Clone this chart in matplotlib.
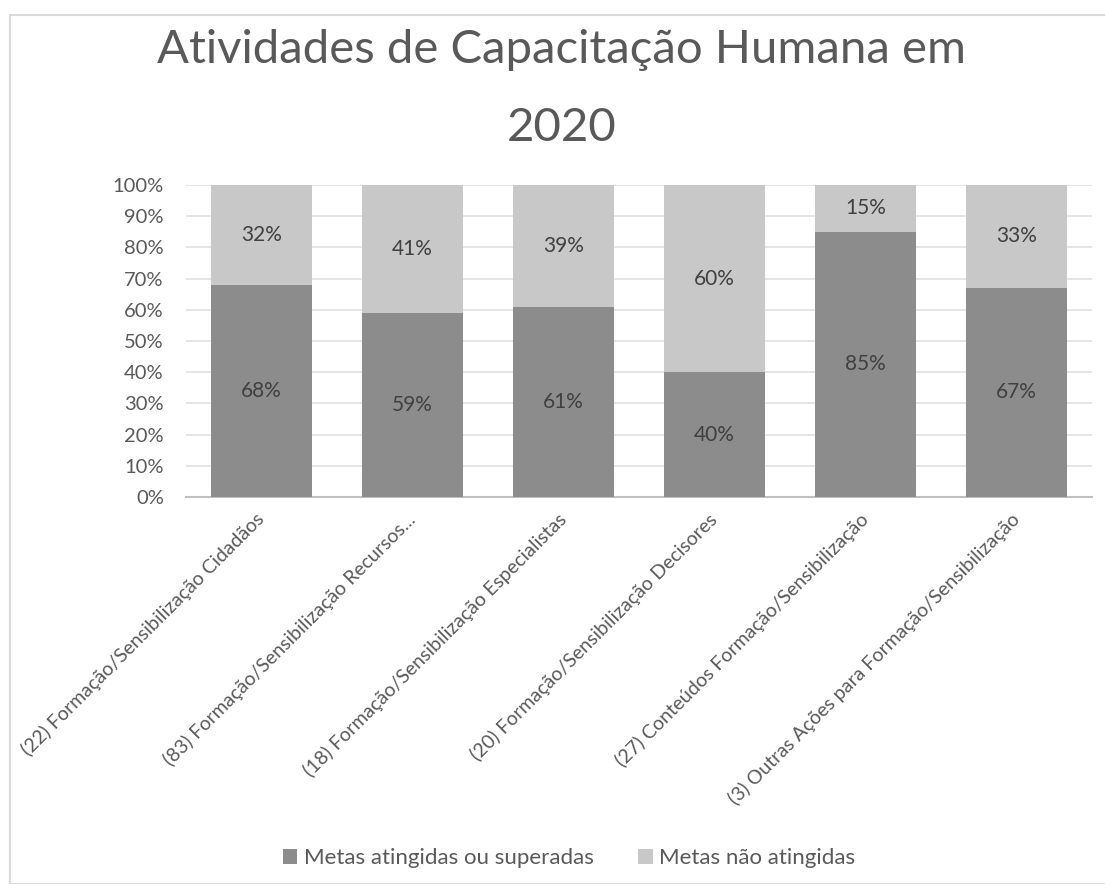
import matplotlib
matplotlib.use("Agg")
import matplotlib.pyplot as plt
from matplotlib.patches import Rectangle
import numpy as np

categories = [
    "(22) Formação/Sensibilização Cidadãos",
    "(83) Formação/Sensibilização Recursos...",
    "(18) Formação/Sensibilização Especialistas",
    "(20) Formação/Sensibilização Decisores",
    "(27) Conteúdos Formação/Sensibilização",
    "(3) Outras Ações para Formação/Sensibilização",
]
atingidas = [68, 59, 61, 40, 85, 67]
nao_atingidas = [32, 41, 39, 60, 15, 33]
series_names = ["Metas atingidas ou superadas", "Metas não atingidas"]
yticks = list(range(0, 101, 10))

plt.rcParams['font.family'] = ['Lato', 'DejaVu Sans']
txt = '#595959'
c_dark = '#8c8c8c'
c_light = '#c8c8c8'

fig = plt.figure(figsize=(11.05, 8.84), dpi=100)
fig.patches.append(Rectangle((10/1105, 0), 1.2, 1 - 15/884, transform=fig.transFigure,
                             fill=False, edgecolor='#d9d9d9', linewidth=1.5))
ax = fig.add_axes([186/1105, 1 - 497/884, (1092-186)/1105, (497-185)/884])

x = np.arange(len(categories))
w = 0.667
ax.bar(x, atingidas, w, color=c_dark, label=series_names[0], zorder=3)
ax.bar(x, nao_atingidas, w, bottom=atingidas, color=c_light, label=series_names[1], zorder=3)

for i in range(len(categories)):
    ax.text(x[i], atingidas[i] / 2, f"{atingidas[i]}%", ha='center', va='center',
            fontsize=15, color='#404040', zorder=4)
    ax.text(x[i], atingidas[i] + nao_atingidas[i] / 2, f"{nao_atingidas[i]}%", ha='center',
            va='center', fontsize=15, color='#404040', zorder=4)

ax.set_xlim(-0.5, len(categories) - 0.5)
ax.set_ylim(0, 100)
ax.set_yticks(yticks)
ax.set_yticklabels([f"{t}%" for t in yticks], fontsize=14.5, color=txt)
ax.yaxis.grid(True, color='#e3e3e3', linewidth=1.3, zorder=0)
ax.set_axisbelow(True)
for s in ['top', 'right', 'left']:
    ax.spines[s].set_visible(False)
ax.spines['bottom'].set_color('#bfbfbf')
ax.spines['bottom'].set_linewidth(1.5)
ax.tick_params(axis='y', length=0, pad=16)
ax.tick_params(axis='x', length=0, pad=14)
ax.set_xticks(x)
ax.set_xticklabels(categories, rotation=45, ha='right', va='center', rotation_mode='anchor',
                   fontsize=14, color=txt)

fig.text(0.508, 1 - 50/884, "Atividades de Capacitação Humana em", ha='center', va='center',
         fontsize=34, color=txt)
fig.text(0.508, 1 - 128/884, "2020", ha='center', va='center', fontsize=34, color=txt)

leg = fig.legend(loc='center', bbox_to_anchor=(0.515, 1 - 858/884), ncol=2, frameon=False,
                 fontsize=16, handlelength=0.65, handleheight=0.65, handletextpad=0.3,
                 columnspacing=2.0, labelcolor=txt)

fig.savefig("out.png", dpi=100)
